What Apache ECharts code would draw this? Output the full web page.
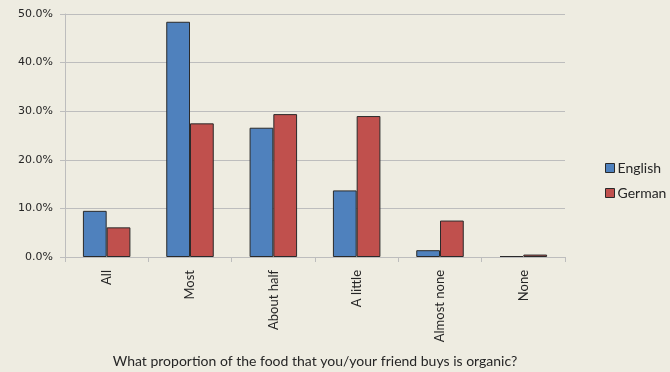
<!DOCTYPE html>
<html>
<head>
<meta charset="utf-8">
<script src="https://cdn.jsdelivr.net/npm/echarts@6/dist/echarts.min.js"></script>
<style>
  html, body { margin: 0; padding: 0; background: #EEECE1; }
  #chart { width: 670px; height: 372px; }
</style>
</head>
<body>
<div id="chart"></div>
<script>
// Share of organic food purchases, by answer and survey language
const categories = ['All', 'Most', 'About half', 'A little', 'Almost none', 'None'];
const english = [9.5, 48.4, 26.6, 13.7, 1.4, 0.2];
const german = [6.1, 27.5, 29.4, 29.0, 7.5, 0.5];
const yTicks = [0, 10, 20, 30, 40, 50];
const xTitle = 'What proportion of the food that you/your friend buys is organic?';

const font = 'Lato, "Open Sans", sans-serif';
const textColor = '#262626';
const chart = echarts.init(document.getElementById('chart'));
chart.setOption({
  backgroundColor: '#EEECE1',
  animation: false,
  textStyle: { fontFamily: font },
  grid: { left: 65, right: 105, top: 14, bottom: 115, outerBoundsMode: 'none', containLabel: false },
  legend: {
    orient: 'vertical',
    left: 600,
    top: 156,
    itemWidth: 9,
    itemHeight: 9,
    itemGap: 11,
    icon: 'rect',
    itemStyle: { borderColor: '#2a2a2a', borderWidth: 1 },
    textStyle: { fontFamily: font, fontSize: 14, color: textColor, padding: [0, 0, 0, -2] },
    data: ['English', 'German']
  },
  xAxis: {
    type: 'category',
    data: categories,
    name: xTitle,
    nameLocation: 'middle',
    nameGap: 97,
    nameTextStyle: { fontFamily: font, fontSize: 14, color: textColor },
    axisLine: { lineStyle: { color: '#BDBDBD', width: 1 } },
    axisTick: { show: true, alignWithLabel: false, length: 5, lineStyle: { color: '#BDBDBD' } },
    axisLabel: { rotate: 90, fontSize: 13, color: textColor, margin: 13, fontFamily: font }
  },
  yAxis: {
    type: 'value',
    min: yTicks[0],
    max: yTicks[yTicks.length - 1],
    interval: 10,
    axisLine: { show: true, lineStyle: { color: '#BDBDBD' } },
    axisTick: { show: true, length: 5, lineStyle: { color: '#BDBDBD' } },
    axisLabel: { fontSize: 11, color: textColor, margin: 12, fontFamily: '"DejaVu Sans", sans-serif',
      formatter: v => v.toFixed(1) + '%' },
    splitLine: { lineStyle: { color: '#BDBDBD', width: 1 } }
  },
  series: [
    {
      name: 'English', type: 'bar', data: english,
      barGap: '0%', barCategoryGap: '43%',
      itemStyle: { color: '#4F81BD', borderColor: '#2a2a2a', borderWidth: 1 }
    },
    {
      name: 'German', type: 'bar', data: german,
      barGap: '0%', barCategoryGap: '43%',
      itemStyle: { color: '#C0504D', borderColor: '#2a2a2a', borderWidth: 1 }
    }
  ]
});
</script>
</body>
</html>
